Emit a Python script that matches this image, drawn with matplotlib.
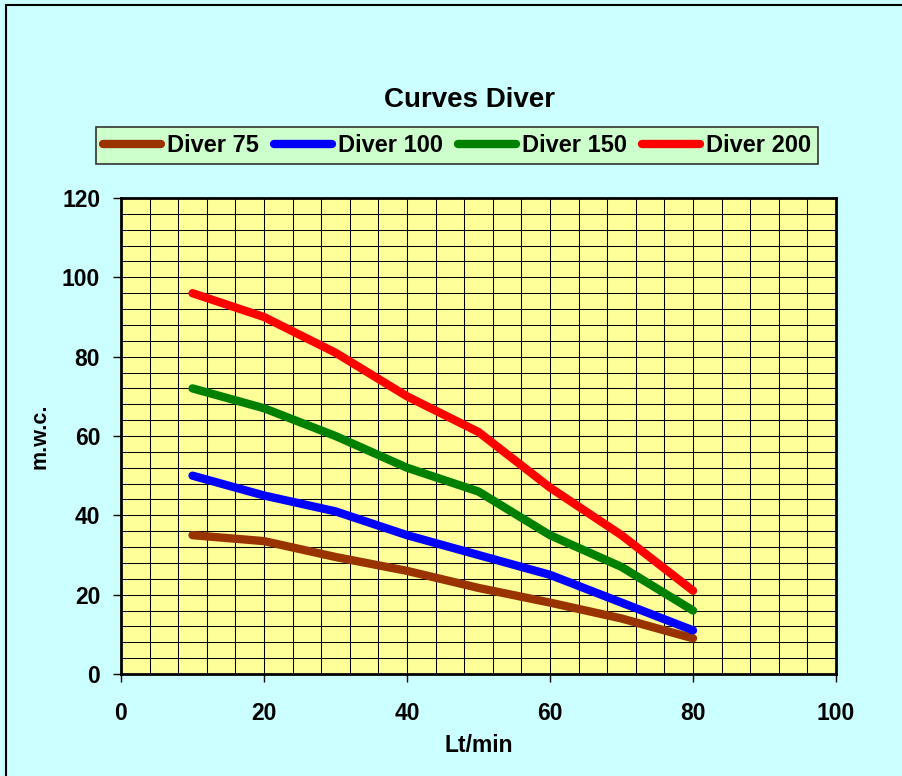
import matplotlib
matplotlib.use("Agg")
import matplotlib.pyplot as plt
from matplotlib.patches import Rectangle
from matplotlib.ticker import MultipleLocator

plt.rcParams['font.family'] = ['Liberation Sans', 'DejaVu Sans']
plt.rcParams['font.weight'] = 'bold'

flow = [10, 20, 30, 40, 50, 60, 70, 80]
diver75 = [35, 33.5, 29.5, 26, 21.7, 18, 14, 9]
diver100 = [50, 45, 41, 35, 30, 25, 18, 11]
diver150 = [72, 67, 60, 52, 46, 35, 27, 16]
diver200 = [96, 90, 81, 70, 61, 47, 35, 21]
series_names = ["Diver 75", "Diver 100", "Diver 150", "Diver 200"]
series_colors = ["#993300", "#0000FF", "#008000", "#FF0000"]

fig = plt.figure(figsize=(9.03, 7.76), dpi=100, facecolor="#CCFFFF")
fig.patches.append(Rectangle((6.5/903, -0.1), 1.2, 1 - 5.5/776 + 0.1,
                             transform=fig.transFigure, facecolor="none",
                             edgecolor="black", linewidth=1.5))

ax = fig.add_axes([121/903, 1 - 674/776, (836 - 121)/903, (674 - 198)/776])
ax.set_facecolor("#FFFF99")

for vals, name, col in zip([diver75, diver100, diver150, diver200], series_names, series_colors):
    ax.plot(flow, vals, color=col, linewidth=6, solid_capstyle='round',
            solid_joinstyle='round', label=name)

ax.set_xlim(0, 100)
ax.set_ylim(0, 120)
ax.xaxis.set_major_locator(MultipleLocator(20))
ax.yaxis.set_major_locator(MultipleLocator(20))
ax.xaxis.set_minor_locator(MultipleLocator(4))
ax.yaxis.set_minor_locator(MultipleLocator(4))
ax.grid(which='both', color='black', linewidth=0.75)
ax.set_axisbelow(True)
ax.tick_params(which='major', direction='out', length=6, width=1, labelsize=16.5)
ax.tick_params(axis='x', which='major', pad=14)
ax.tick_params(axis='y', which='major', pad=9)
ax.tick_params(which='minor', length=0)
for lab in ax.get_xticklabels() + ax.get_yticklabels():
    lab.set_fontweight('bold')
for sp in ax.spines.values():
    sp.set_linewidth(2)
    sp.set_color('black')

ax.set_xlabel("Lt/min", fontsize=16.5, fontweight='bold', labelpad=7)
ax.set_ylabel("m.w.c.", fontsize=15.5, fontweight='bold', labelpad=8)

fig.text(470/903, 1 - 100/776, "Curves Diver", ha='center', va='center',
         fontsize=20, fontweight='bold')

leg = fig.legend(loc='center', bbox_to_anchor=(457/903, 1 - 145.5/776), ncol=4,
                 frameon=True, fancybox=False, facecolor="#CCFFCC", edgecolor="#333333",
                 prop={'size': 17, 'weight': 'bold'}, handlelength=2.45,
                 handletextpad=0.25, columnspacing=0.65, borderpad=0.3,
                 borderaxespad=0)
leg.get_frame().set_linewidth(1.2)
leg.get_frame().set_alpha(None)

fig.savefig("out.png", dpi=100, facecolor=fig.get_facecolor())
